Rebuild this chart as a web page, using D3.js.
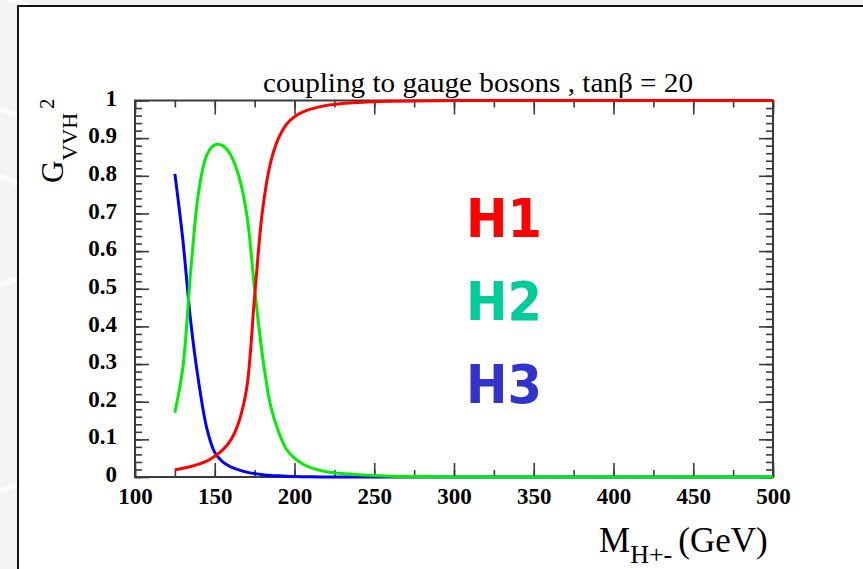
<!DOCTYPE html>
<html lang="en">
<head>
    <meta charset="utf-8">
    <script src="https://d3js.org/d3.v7.min.js"></script>
    <style>
        html, body {margin: 0; padding: 0; background: #f3f3f3;}
        svg {display: block;}
    </style>
</head>
<body>
    <svg id="chart" width="863" height="569"></svg>

    <script>
        // data
        const masses = [125, 130, 135, 140, 145, 150, 155, 160, 165, 170, 175, 180, 185, 190, 195, 200, 205, 210, 220, 230, 240, 250, 260, 275, 300, 350, 400, 450, 500];
        const h1 = [0.019, 0.023, 0.028, 0.034, 0.042, 0.055, 0.072, 0.098, 0.145, 0.235, 0.48, 0.71, 0.835, 0.90, 0.937, 0.957, 0.969, 0.977, 0.987, 0.992, 0.995, 0.997, 0.998, 0.999, 1, 1, 1, 1, 1];
        const h2 = [0.171, 0.29, 0.55, 0.76, 0.855, 0.882, 0.880, 0.855, 0.80, 0.70, 0.50, 0.32, 0.19, 0.12, 0.073, 0.05, 0.035, 0.025, 0.014, 0.009, 0.006, 0.004, 0.002, 0.001, 0, 0, 0, 0, 0];
        const h3 = [0.805, 0.63, 0.41, 0.25, 0.13, 0.065, 0.04, 0.027, 0.019, 0.013, 0.009, 0.006, 0.004, 0.003, 0.002, 0.001, 0.0007, 0.0005, 0.0002, 0, 0, 0, 0, 0, 0, 0, 0, 0, 0];
        const xTicks = [100, 150, 200, 250, 300, 350, 400, 450, 500];
        const yTicks = [0, 0.1, 0.2, 0.3, 0.4, 0.5, 0.6, 0.7, 0.8, 0.9, 1];
        const seriesNames = ["H1", "H2", "H3"];
        const lineColors = ["#ff0000", "#00ee00", "#0000ff"];
        const labelColors = ["#ff0000", "#00cc99", "#3333cc"];

        const svg = d3.select("#chart");
        const serif = "Liberation Serif, Times New Roman, serif";

        // faint background swirl + white panel
        svg.append("rect").attr("width", 863).attr("height", 569).attr("fill", "#f3f3f3");
        [[-60, 300, 200], [-90, 420, 260], [-40, 140, 150]].forEach(c => {
            svg.append("circle").attr("cx", c[0]).attr("cy", c[1]).attr("r", c[2])
                .attr("fill", "none").attr("stroke", "#fbfbfb").attr("stroke-width", 6);
        });
        svg.append("rect")
            .attr("x", 18).attr("y", 6).attr("width", 900).attr("height", 600)
            .attr("fill", "#fff").attr("stroke", "#111").attr("stroke-width", 2);

        const x = d3.scaleLinear().domain([100, 500]).range([135, 773]);
        const y = d3.scaleLinear().domain([0, 1]).range([477, 100.5]);

        const axisColor = "#3a3a3a";
        function styleAxis(g) {
            g.select(".domain").remove();
            g.selectAll("line").attr("stroke", axisColor).attr("stroke-width", 1.6);
        }

        const minorX = d3.range(100, 501, 25);
        const minorY = d3.range(0, 1.001, 0.02);

        // bottom
        svg.append("g").attr("transform", `translate(0,${y(0)})`)
            .call(d3.axisBottom(x).tickValues(minorX).tickSize(-7).tickFormat(""))
            .call(styleAxis);
        svg.append("g").attr("transform", `translate(0,${y(0)})`)
            .call(d3.axisBottom(x).tickValues(xTicks).tickSize(-14).tickPadding(28).tickFormat(d3.format("d")))
            .call(styleAxis)
            .selectAll("text")
            .attr("fill", "#000").attr("font-family", serif)
            .attr("font-weight", "bold").attr("font-size", 23).attr("dy", "-0.05em");
        // top
        svg.append("g").attr("transform", `translate(0,${y(1)})`)
            .call(d3.axisTop(x).tickValues(minorX).tickSize(-7).tickFormat(""))
            .call(styleAxis);
        svg.append("g").attr("transform", `translate(0,${y(1)})`)
            .call(d3.axisTop(x).tickValues(xTicks).tickSize(-14).tickFormat(""))
            .call(styleAxis);
        // left
        svg.append("g").attr("transform", `translate(${x(100)},0)`)
            .call(d3.axisLeft(y).tickValues(minorY).tickSize(-7).tickFormat(""))
            .call(styleAxis);
        svg.append("g").attr("transform", `translate(${x(100)},0)`)
            .call(d3.axisLeft(y).tickValues(yTicks).tickSize(-14).tickPadding(18).tickFormat(d => d === 0 || d === 1 ? d3.format("d")(d) : d3.format(".1f")(d)))
            .call(styleAxis)
            .selectAll("text")
            .attr("fill", "#000").attr("font-family", serif)
            .attr("font-weight", "bold").attr("font-size", 23).attr("dy", "0.2em");
        // right
        svg.append("g").attr("transform", `translate(${x(500)},0)`)
            .call(d3.axisRight(y).tickValues(minorY).tickSize(-7).tickFormat(""))
            .call(styleAxis);
        svg.append("g").attr("transform", `translate(${x(500)},0)`)
            .call(d3.axisRight(y).tickValues(yTicks).tickSize(-14).tickFormat(""))
            .call(styleAxis);

        // frame
        svg.append("rect")
            .attr("x", x(100)).attr("y", y(1))
            .attr("width", x(500) - x(100)).attr("height", y(0) - y(1))
            .attr("fill", "none").attr("stroke", axisColor).attr("stroke-width", 2);

        // curves
        const line = d3.line()
            .x(d => x(d[0]))
            .y(d => y(Math.min(1, Math.max(0, d[1]))))
            .curve(d3.curveCatmullRom.alpha(0.5));

        [h3, h2, h1].forEach((vals, k) => {
            const i = 2 - k;
            svg.append("path")
                .datum(masses.map((m, j) => [m, vals[j]]))
                .attr("fill", "none")
                .attr("stroke", lineColors[i])
                .attr("stroke-width", 3)
                .attr("d", line);
        });

        // title
        svg.append("text")
            .attr("x", 263).attr("y", 92)
            .attr("font-family", serif)
            .attr("font-size", 27)
            .attr("textLength", 430).attr("lengthAdjust", "spacingAndGlyphs")
            .text("coupling to gauge bosons , tanβ = 20");

        // y label
        const yl = svg.append("text")
            .attr("transform", "translate(63,183) rotate(-90)")
            .attr("font-family", serif)
            .attr("font-size", 31);
        yl.append("tspan").text("G");
        yl.append("tspan").attr("font-size", 22).attr("dy", 14).text("VVH");
        yl.append("tspan").attr("font-size", 21).attr("dy", -23).attr("dx", 4).text("2");

        // x label
        const xl = svg.append("text")
            .attr("x", 599).attr("y", 552)
            .attr("font-family", serif)
            .attr("font-size", 35);
        xl.append("tspan").text("M");
        xl.append("tspan").attr("font-size", 26).attr("dy", 11).text("H+-");
        xl.append("tspan").attr("dy", -11).attr("dx", 6).text("(GeV)");

        // series labels
        svg.append("g").selectAll("text")
            .data(seriesNames)
            .join("text")
            .attr("x", 466)
            .attr("y", (d, i) => 237 + i * 83)
            .attr("font-family", "DejaVu Sans, Verdana, sans-serif")
            .attr("font-weight", "bold")
            .attr("font-size", 53)
            .attr("textLength", 76).attr("lengthAdjust", "spacingAndGlyphs")
            .attr("fill", (d, i) => labelColors[i])
            .text(d => d);
    </script>
</body>
</html>
